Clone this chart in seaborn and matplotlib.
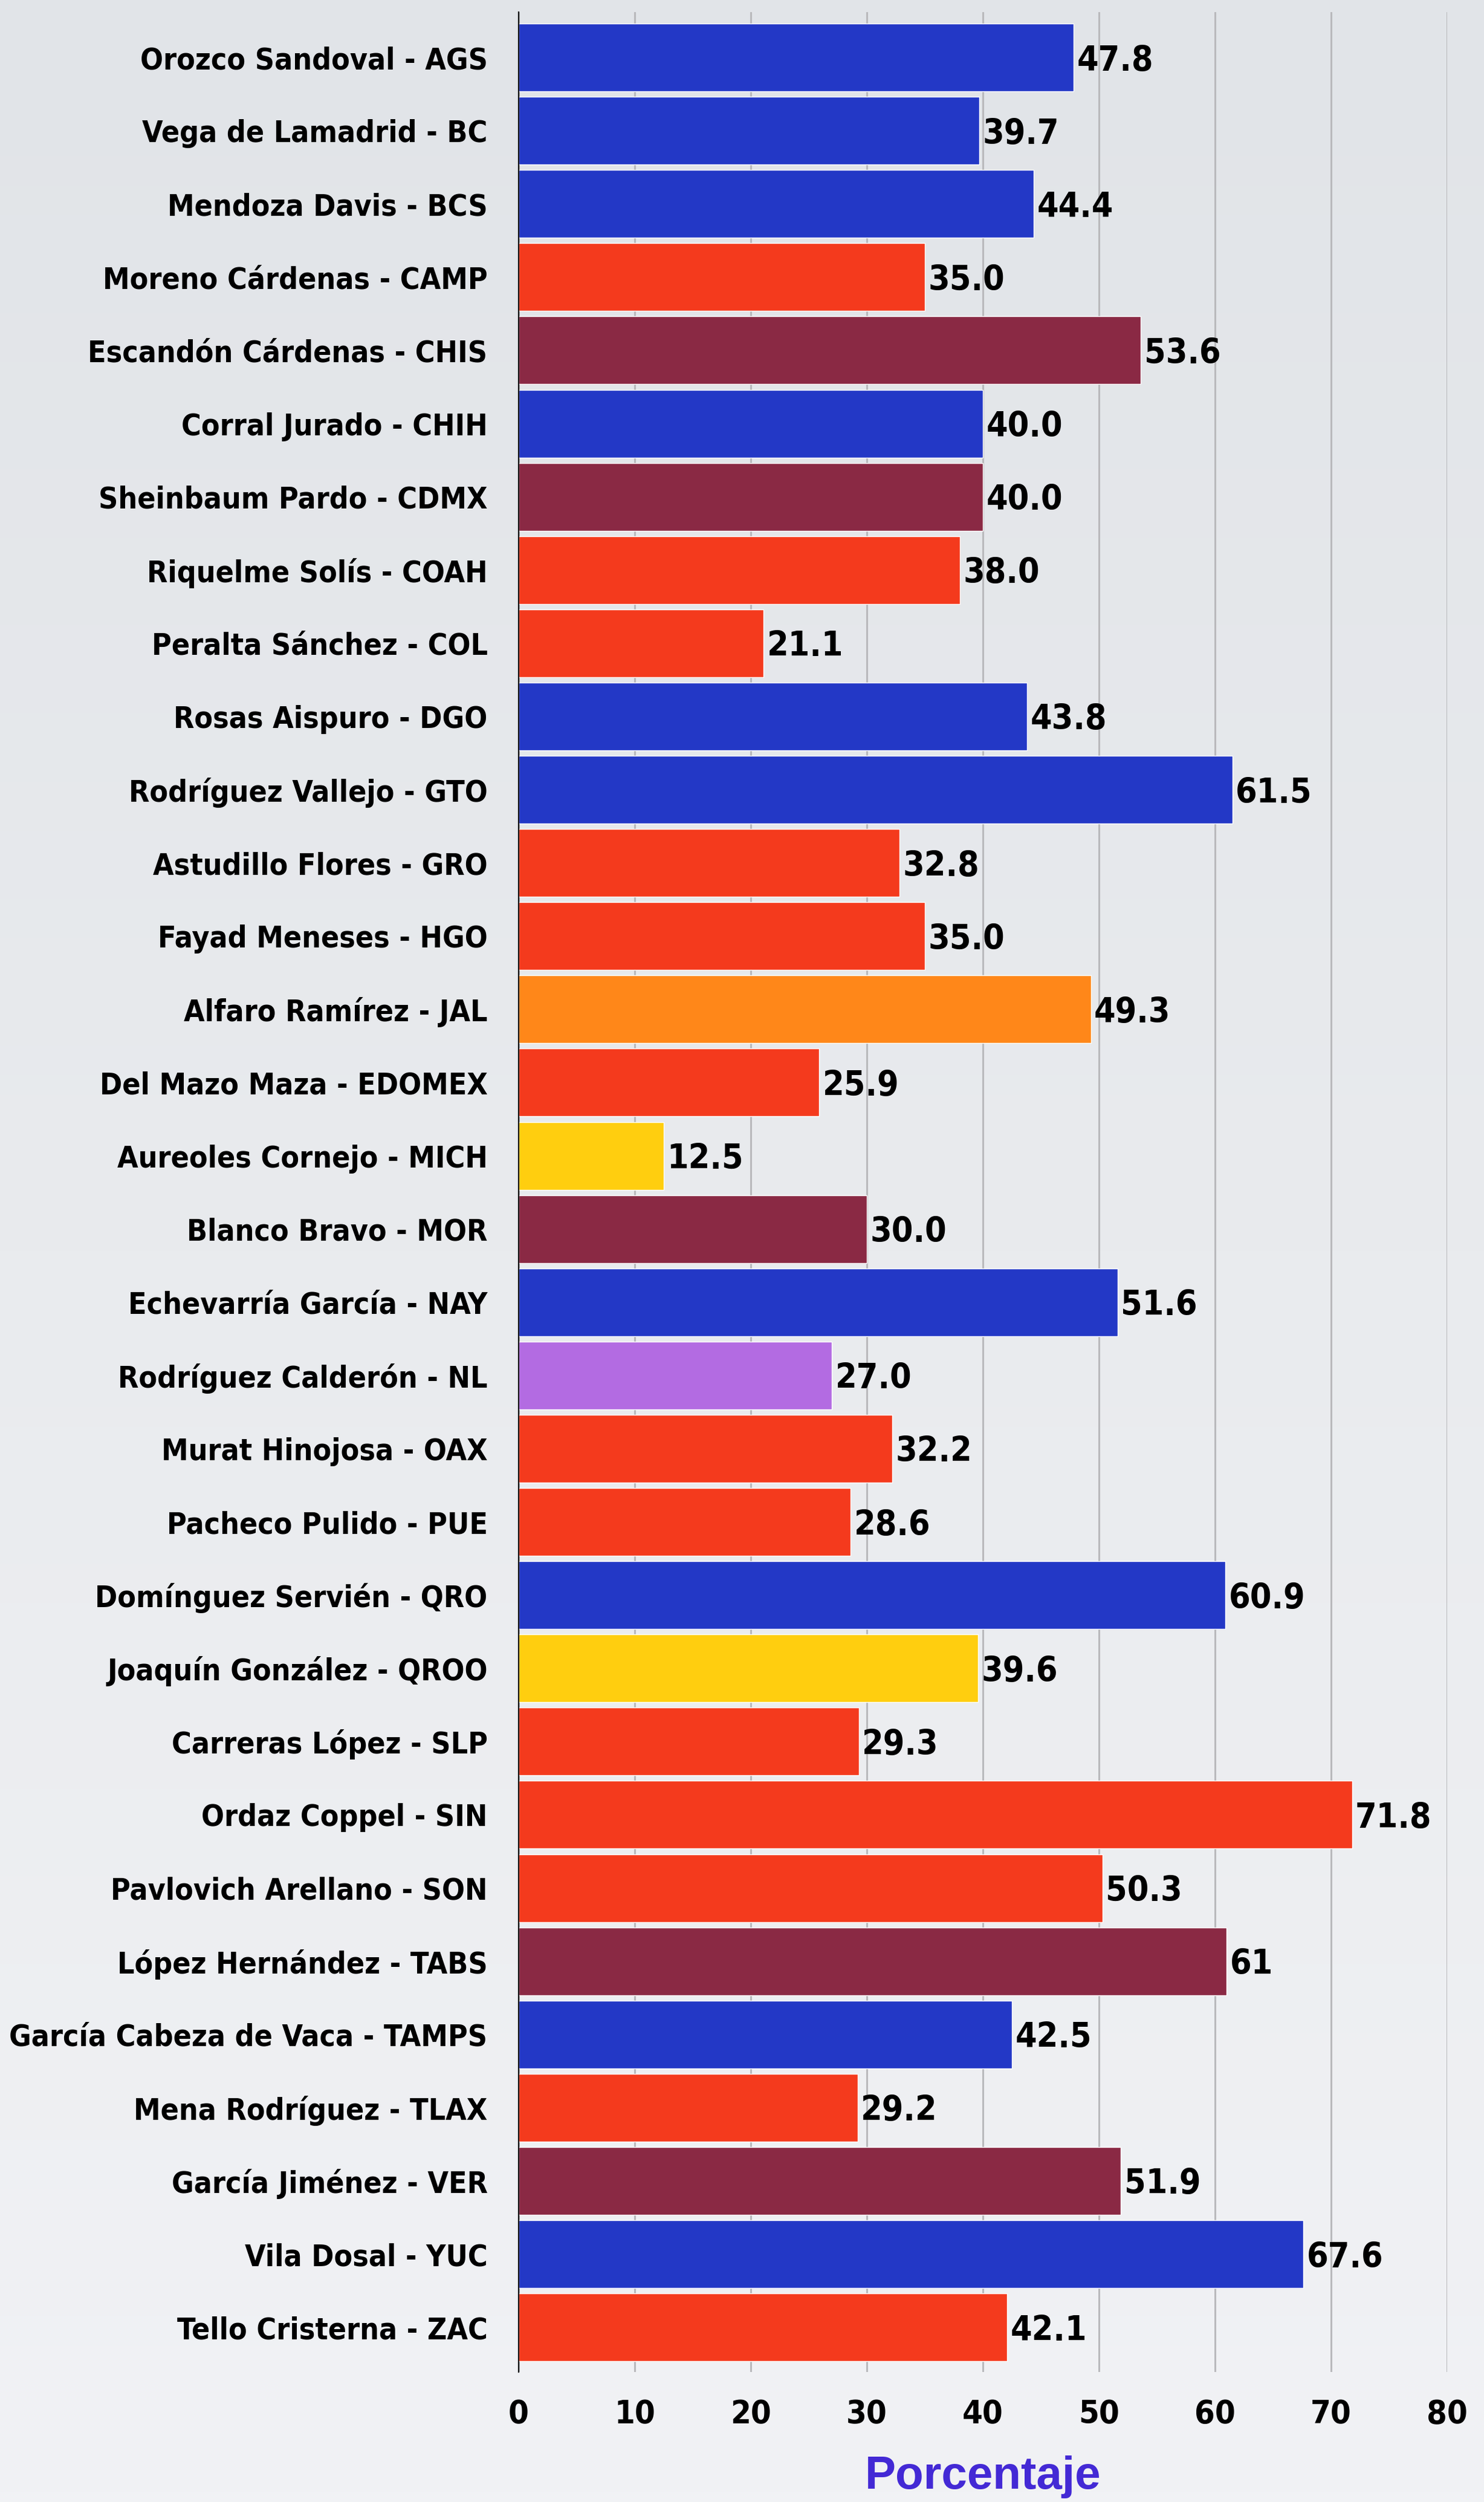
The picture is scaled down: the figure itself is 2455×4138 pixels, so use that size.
import numpy as np
import pandas as pd
import matplotlib
matplotlib.use("Agg")
import matplotlib.pyplot as plt
import seaborn as sns
from matplotlib.colors import LinearSegmentedColormap

# ---------------- data ----------------
names = [
    "Orozco Sandoval - AGS", "Vega de Lamadrid - BC", "Mendoza Davis - BCS",
    "Moreno Cárdenas - CAMP", "Escandón Cárdenas - CHIS", "Corral Jurado - CHIH",
    "Sheinbaum Pardo - CDMX", "Riquelme Solís - COAH", "Peralta Sánchez - COL",
    "Rosas Aispuro - DGO", "Rodríguez Vallejo - GTO", "Astudillo Flores - GRO",
    "Fayad Meneses - HGO", "Alfaro Ramírez - JAL", "Del Mazo Maza - EDOMEX",
    "Aureoles Cornejo - MICH", "Blanco Bravo - MOR", "Echevarría García - NAY",
    "Rodríguez Calderón - NL", "Murat Hinojosa - OAX", "Pacheco Pulido - PUE",
    "Domínguez Servién - QRO", "Joaquín González - QROO", "Carreras López - SLP",
    "Ordaz Coppel - SIN", "Pavlovich Arellano - SON", "López Hernández - TABS",
    "García Cabeza de Vaca - TAMPS", "Mena Rodríguez - TLAX", "García Jiménez - VER",
    "Vila Dosal - YUC", "Tello Cristerna - ZAC",
]
values = [47.8, 39.7, 44.4, 35.0, 53.6, 40.0, 40.0, 38.0, 21.1, 43.8, 61.5, 32.8,
          35.0, 49.3, 25.9, 12.5, 30.0, 51.6, 27.0, 32.2, 28.6, 60.9, 39.6, 29.3,
          71.8, 50.3, 61.0, 42.5, 29.2, 51.9, 67.6, 42.1]
value_labels = ["47.8", "39.7", "44.4", "35.0", "53.6", "40.0", "40.0", "38.0",
                "21.1", "43.8", "61.5", "32.8", "35.0", "49.3", "25.9", "12.5",
                "30.0", "51.6", "27.0", "32.2", "28.6", "60.9", "39.6", "29.3",
                "71.8", "50.3", "61", "42.5", "29.2", "51.9", "67.6", "42.1"]
parties = ["PAN", "PAN", "PAN", "PRI", "MORENA", "PAN", "MORENA", "PRI", "PRI",
           "PAN", "PAN", "PRI", "PRI", "MC", "PRI", "PRD", "PES", "PAN", "IND",
           "PRI", "PRI", "PAN", "PRD", "PRI", "PRI", "PRI", "MORENA", "PAN",
           "PRI", "MORENA", "PAN", "PRI"]
party_colors = {
    "PAN": "#2338C6", "PRI": "#F43A1D", "MORENA": "#8A2944", "PES": "#8A2944",
    "MC": "#FF8719", "PRD": "#FFCE0F", "IND": "#B36BE2",
}
x_ticks = [0, 10, 20, 30, 40, 50, 60, 70, 80]
x_label = "Porcentaje"

df = pd.DataFrame({"name": names, "value": values, "party": parties})

# ---------------- style ----------------
sns.set_theme(style="white")
plt.rcParams["font.family"] = ["DejaVu Sans"]

W, H, DPI = 2455, 4138, 100
fig = plt.figure(figsize=(W / DPI, H / DPI), dpi=DPI)

# background gradient
bg = fig.add_axes([0, 0, 1, 1], zorder=-10)
grad = np.linspace(0, 1, 256).reshape(-1, 1)
cmap_bg = LinearSegmentedColormap.from_list("bg", ["#E1E4E8", "#E9EBEE", "#F1F2F5"])
bg.imshow(grad, aspect="auto", cmap=cmap_bg, extent=[0, 1, 0, 1], origin="upper")
bg.set_axis_off()

left, right = 858 / W, 2394 / W
top, bottom = 1 - 20 / H, 1 - 3923 / H
ax = fig.add_axes([left, bottom, right - left, top - bottom])
ax.set_facecolor("none")

sns.barplot(data=df, y="name", x="value", hue="party", palette=party_colors,
            order=names, orient="h", width=0.925, dodge=False, legend=False,
            saturation=1, ax=ax, zorder=3)

ax.set_xlim(0, 80)
ax.set_ylim(len(names) - 1 + 0.61, -0.62)
ax.set_xticks(x_ticks)
ax.xaxis.grid(True, color="#B9B9BC", linewidth=2.2, zorder=0)
ax.yaxis.grid(False)
ax.set_axisbelow(True)
for s in ["top", "right", "bottom"]:
    ax.spines[s].set_visible(False)
ax.spines["left"].set_color("#111111")
ax.spines["left"].set_linewidth(1.6)
ax.spines["left"].set_zorder(5)

ax.tick_params(axis="y", length=0, pad=37)
ax.tick_params(axis="x", length=0, pad=32)
for t in ax.get_yticklabels():
    t.set_fontsize(35.8)
    t.set_fontweight("bold")
    t.set_fontstretch("condensed")
    t.set_color("black")
for t in ax.get_xticklabels():
    t.set_fontsize(39)
    t.set_fontweight("bold")
    t.set_fontstretch("condensed")
    t.set_color("black")

ax.set_ylabel("")
ax.set_xlabel(x_label, fontsize=55, fontweight="bold", color="#4329D5",
              family="Liberation Sans", labelpad=30)

for i, (v, lab) in enumerate(zip(values, value_labels)):
    ax.annotate(lab, xy=(v, i), xytext=(4, 0), textcoords="offset points",
                va="center_baseline", ha="left", fontsize=41, fontweight="bold",
                fontstretch="condensed", color="black", zorder=6)

fig.savefig("out.png", dpi=DPI)
